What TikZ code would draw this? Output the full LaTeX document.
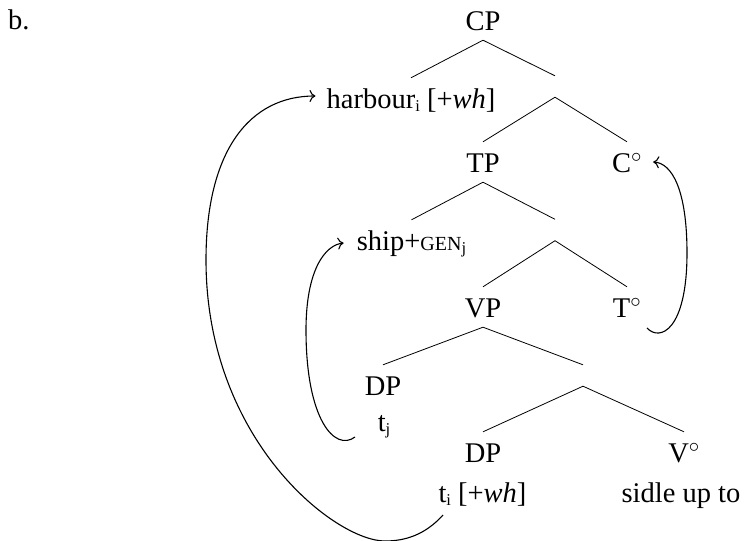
\documentclass[tikz,border=0pt]{standalone}
\usepackage{fontspec}
\usetikzlibrary{arrows.meta}
\setmainfont{Liberation Serif}
\newcommand\sbs[1]{\raisebox{-3pt}{\fontsize{16.5}{16.5}\selectfont #1}}
\newcommand\gensc{{\fontsize{20}{20}\selectfont GEN}}
\newcommand\dg{\ensuremath{^\circ}}
\begin{document}
\begin{tikzpicture}[x=1pt,y=-1pt,
  every node/.style={font=\fontsize{28.5}{32}\selectfont},
  lab/.style={anchor=base, inner sep=0pt, text height=30pt, text depth=10pt},
  bar/.style={inner sep=0pt, minimum width=0pt, minimum height=21pt},
  branch/.style={line width=0.8pt},
  mv/.style={line width=1.1pt, -{To[length=6pt,width=12pt]}}]
\useasboundingbox (0,0) rectangle (745,541);
\node[anchor=base west, inner sep=0pt] (ex) at (8,29) {b.};
\node[lab] (cp) at (483,30) {CP};
\node[bar] (b1) at (555,86.5) {};
\node[lab] (harb) at (411,108) {harbour\sbs{i} [+\textit{wh}]};
\node[lab] (tp) at (483,172) {TP};
\node[lab] (c0) at (627,172) {C\dg};
\node[bar] (b2) at (555,230) {};
\node[lab] (ship) at (411.5,250) {ship+\gensc\sbs{j}};
\node[lab] (vp) at (483,317) {VP};
\node[lab] (t0) at (627,317) {T\dg};
\node[bar] (b3) at (583,375.5) {};
\node[lab] (dp1) at (383,395) {DP};
\node[lab] (tj) at (384,431) {t\sbs{j}};
\node[lab] (dp2) at (483,462) {DP};
\node[lab] (v0) at (684,462) {V\dg};
\node[lab] (ti) at (482.5,502) {t\sbs{i} [+\textit{wh}]};
\node[lab] (sid) at (681,502) {sidle up to};
\draw[branch] (cp.south) -- (harb.north);
\draw[branch] (cp.south) -- (b1.north);
\draw[branch] (b1.south) -- (tp.north);
\draw[branch] (b1.south) -- (c0.north);
\draw[branch] (tp.south) -- (ship.north);
\draw[branch] (tp.south) -- (b2.north);
\draw[branch] (b2.south) -- (vp.north);
\draw[branch] (b2.south) -- (t0.north);
\draw[branch] (vp.south) -- (dp1.north);
\draw[branch] (vp.south) -- (b3.north);
\draw[branch] (b3.south) -- (dp2.north);
\draw[branch] (b3.south) -- (v0.north);
\coordinate (istart) at (443,515);
\coordinate (jstart) at (355,437);
\coordinate (tstart) at (647,328);
\draw[mv] (istart) .. controls (425,535) and (405,541) .. (385,541)
  .. controls (335,541) and (206,440) .. (206,260)
  .. controls (206,150) and (250,96) .. ([xshift=-11pt,yshift=2pt]harb.west);
\draw[mv] (jstart) .. controls (335,452) and (306,420) .. (306,330)
  .. controls (306,270) and (325,245) .. ([xshift=-13pt,yshift=-3pt]ship.west);
\draw[mv] (tstart) .. controls (660,342) and (687,330) .. (687,253)
  .. controls (687,190) and (672,163) .. ([xshift=11pt]c0.east);
\end{tikzpicture}
\end{document}
